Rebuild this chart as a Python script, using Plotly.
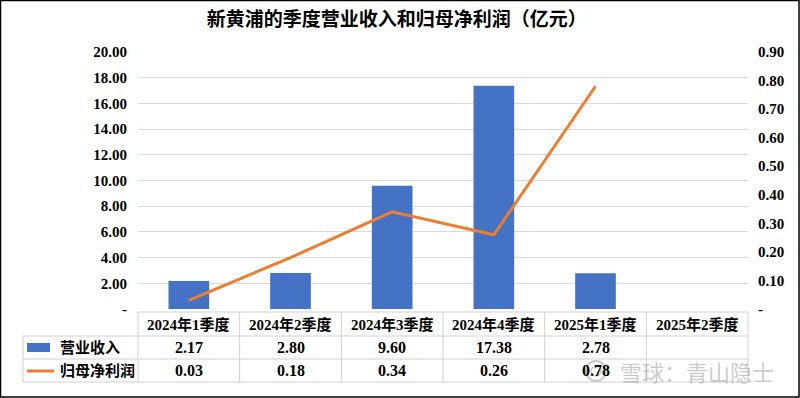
import plotly.graph_objects as go

categories = ["2024年1季度", "2024年2季度", "2024年3季度", "2024年4季度", "2025年1季度", "2025年2季度"]
revenue = [2.17, 2.80, 9.60, 17.38, 2.78, None]
profit = [0.03, 0.18, 0.34, 0.26, 0.78, None]
left_ticks = [0, 2, 4, 6, 8, 10, 12, 14, 16, 18, 20]
right_ticks = [0, 0.1, 0.2, 0.3, 0.4, 0.5, 0.6, 0.7, 0.8, 0.9]
series_names = ["营业收入", "归母净利润"]
title = "新黄浦的季度营业收入和归母净利润（亿元）"
watermark = "雪球：青山隐士"

W, H = 800, 398
L, R, T, B = 138, 52, 52, 89
PW, PH = W - L - R, H - T - B

BLUE = "#4472C4"
ORANGE = "#ED7D31"
GRID = "#D9D9D9"
FONT = "Liberation Serif, Noto Sans CJK SC, serif"


def xp(px):
    return (px - L) / PW


def yp(py):
    return (H - B - py) / PH


fig = go.Figure()
fig.add_trace(go.Bar(x=categories, y=revenue, name=series_names[0],
                     marker=dict(color=BLUE, line=dict(width=0)), width=0.4))
fig.add_trace(go.Scatter(x=categories, y=profit, name=series_names[1], yaxis="y2",
                         mode="lines", line=dict(color=ORANGE, width=3), connectgaps=False))

n = len(categories)
shapes = []
annotations = []
gray = "#D0D0D0"
row_tops = [312, 336, 359, 382]
# horizontal table lines
shapes.append(dict(type="line", xref="paper", yref="paper", x0=0, x1=1, y0=yp(row_tops[0]), y1=yp(row_tops[0]), line=dict(color=gray, width=1)))
for ry in row_tops[1:]:
    shapes.append(dict(type="line", xref="paper", yref="paper", x0=xp(23), x1=1, y0=yp(ry), y1=yp(ry), line=dict(color=gray, width=1)))
# vertical lines
for i in range(n + 1):
    x = i / n
    shapes.append(dict(type="line", xref="paper", yref="paper", x0=x, x1=x, y0=yp(row_tops[0]), y1=yp(row_tops[3]), line=dict(color=gray, width=1)))
shapes.append(dict(type="line", xref="paper", yref="paper", x0=xp(23), x1=xp(23), y0=yp(row_tops[1]), y1=yp(row_tops[3]), line=dict(color=gray, width=1)))

# legend keys
shapes.append(dict(type="rect", xref="paper", yref="paper", x0=xp(27), x1=xp(50), y0=yp(352), y1=yp(343), fillcolor=BLUE, line=dict(width=0)))
shapes.append(dict(type="line", xref="paper", yref="paper", x0=xp(27), x1=xp(54), y0=yp(371), y1=yp(371), line=dict(color=ORANGE, width=3)))

# outer border
shapes.append(dict(type="rect", xref="paper", yref="paper", x0=xp(0.5), x1=xp(W - 1), y0=yp(H - 1), y1=yp(0.5), line=dict(color="#000000", width=1.5), fillcolor="rgba(0,0,0,0)"))

# watermark logo (circle)
wm = "rgba(150,150,150,0.5)"
shapes.append(dict(type="circle", xref="paper", yref="paper", x0=xp(586), x1=xp(606), y0=yp(381), y1=yp(361), line=dict(color=wm, width=2), fillcolor="rgba(0,0,0,0)"))
shapes.append(dict(type="circle", xref="paper", yref="paper", x0=xp(591), x1=xp(601), y0=yp(376), y1=yp(366), line=dict(color=wm, width=1.5), fillcolor="rgba(0,0,0,0)"))

cell_font = dict(family=FONT, size=15, color="#000000", weight="bold")
num_font = dict(family=FONT, size=16, color="#000000", weight="bold")
row_mid = [(row_tops[k] + row_tops[k + 1]) / 2 for k in range(3)]
for i, c in enumerate(categories):
    xc = (i + 0.5) / n
    annotations.append(dict(text=c, x=xc, y=yp(row_mid[0]), xref="paper", yref="paper", xanchor="center", yanchor="middle", showarrow=False, font=cell_font))
    if revenue[i] is not None:
        annotations.append(dict(text=f"{revenue[i]:.2f}", x=xc, y=yp(row_mid[1]), xref="paper", yref="paper", xanchor="center", yanchor="middle", showarrow=False, font=num_font))
    if profit[i] is not None:
        annotations.append(dict(text=f"{profit[i]:.2f}", x=xc, y=yp(row_mid[2]), xref="paper", yref="paper", xanchor="center", yanchor="middle", showarrow=False, font=num_font))
for k, nm in enumerate(series_names):
    annotations.append(dict(text=nm, x=xp(58), y=yp(row_mid[k + 1]), xref="paper", yref="paper", xanchor="left", yanchor="middle", showarrow=False, font=cell_font))

# watermark text
annotations.append(dict(text=watermark, x=xp(618), y=yp(371), xref="paper", yref="paper", xanchor="left", yanchor="middle", showarrow=False,
                        font=dict(family="Noto Sans CJK SC", size=22, color=wm)))

fig.update_layout(
    width=W, height=H,
    margin=dict(l=L, r=R, t=T, b=B),
    paper_bgcolor="#FFFFFF", plot_bgcolor="#FFFFFF",
    showlegend=False,
    bargap=0.6,
    title=dict(text=title, x=0.496, xanchor="center", y=1 - 19 / H, yanchor="middle",
               font=dict(family="Noto Sans CJK SC", size=19, color="#000000", weight="bold")),
    xaxis=dict(type="category", showticklabels=False, showgrid=False, zeroline=False, showline=False, ticks=""),
    yaxis=dict(range=[0, 20], tickvals=left_ticks,
               ticktext=["-" if v == 0 else f"{v:.2f}" for v in left_ticks],
               showgrid=True, gridcolor=GRID, gridwidth=1, zeroline=False, showline=False, ticks="",
               ticklabelstandoff=10, automargin=False,
               tickfont=dict(family=FONT, size=15, color="#000000", weight="bold")),
    yaxis2=dict(range=[0, 0.9], overlaying="y", side="right", tickvals=right_ticks,
                ticktext=["-" if v == 0 else f"{v:.2f}" for v in right_ticks],
                showgrid=False, zeroline=False, showline=False, ticks="",
                ticklabelstandoff=9, automargin=False,
                tickfont=dict(family=FONT, size=15, color="#000000", weight="bold")),
    shapes=shapes,
    annotations=annotations,
)

fig.write_html("out.html", config={"displayModeBar": False},
               post_script="document.body.style.margin='0px';document.body.style.overflow='hidden';")
